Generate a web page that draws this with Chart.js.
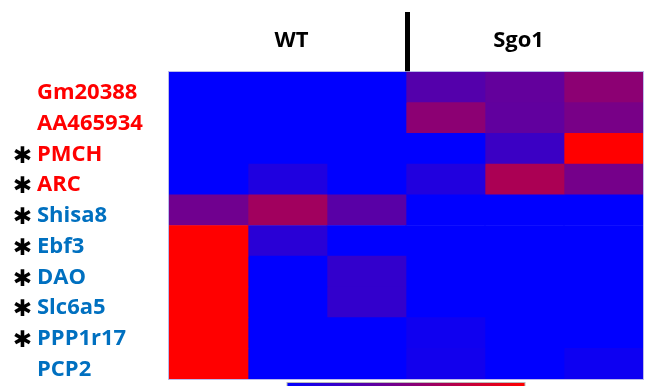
<!DOCTYPE html>
<html>
<head>
<meta charset="utf-8">
<script src="https://cdn.jsdelivr.net/npm/chart.js@4"></script>
<style>
  body { margin: 0; background: #fff; }
  #wrap { width: 646px; height: 386px; position: relative; }
</style>
</head>
<body>
<div id="wrap"><canvas id="heat"></canvas></div>
<script>
const genes = ['Gm20388', 'AA465934', 'PMCH', 'ARC', 'Shisa8', 'Ebf3', 'DAO', 'Slc6a5', 'PPP1r17', 'PCP2'];
const starred = [false, false, true, true, true, true, true, true, true, false];
const upInSgo1 = [true, true, true, true, false, false, false, false, false, false];
const groups = ['WT', 'Sgo1'];
const samples = ['WT1', 'WT2', 'WT3', 'Sgo1_1', 'Sgo1_2', 'Sgo1_3'];

// relative expression per sample (0 = blue, 1 = red)
const wt1 = [0, 0, 0, 0, 0.44, 1, 1, 1, 1, 1];
const wt2 = [0, 0, 0, 0.12, 0.63, 0.16, 0, 0, 0, 0];
const wt3 = [0, 0, 0, 0, 0.35, 0, 0.2, 0.2, 0, 0];
const sgo1a = [0.33, 0.55, 0, 0.13, 0, 0, 0, 0, 0.06, 0.07];
const sgo1b = [0.39, 0.38, 0.23, 0.67, 0, 0, 0, 0, 0, 0];
const sgo1c = [0.55, 0.47, 1, 0.46, 0, 0, 0, 0, 0, 0.05];
const columns = [wt1, wt2, wt3, sgo1a, sgo1b, sgo1c];

const heatColor = t => `rgb(${Math.round(255 * t)},0,${Math.round(255 * (1 - t))})`;
const labelFont = 'bold 22px "Open Sans"';

const datasets = columns.map((vals, c) => ({
  label: samples[c],
  data: vals.map(() => [c, c + 1]),
  backgroundColor: vals.map(heatColor),
  borderWidth: 0,
  barPercentage: 1,
  categoryPercentage: 1,
  grouped: false
}));

const decor = {
  id: 'decor',
  afterDraw(chart) {
    const ctx = chart.ctx;
    const x = chart.scales.x, y = chart.scales.y;
    const area = chart.chartArea;
    ctx.save();
    ctx.textBaseline = 'alphabetic';
    genes.forEach((g, i) => {
      const cy = y.getPixelForValue(i);
      ctx.textAlign = 'left';
      ctx.font = labelFont;
      ctx.fillStyle = upInSgo1[i] ? '#ff0000' : '#0070c0';
      ctx.fillText(g, 37, cy + 12);
      if (starred[i]) {
        ctx.font = '23px "DejaVu Sans"';
        ctx.fillStyle = '#000';
        const m = ctx.measureText('\u2731');
        const h = m.actualBoundingBoxAscent - m.actualBoundingBoxDescent;
        ctx.textAlign = 'center';
        ctx.fillText('\u2731', 22.5, cy + 5.5 + h / 2);
      }
    });
    // group headers
    ctx.font = labelFont;
    ctx.fillStyle = '#000';
    ctx.textAlign = 'center';
    ctx.fillText(groups[0], x.getPixelForValue(1.5) + 4, 47);
    ctx.fillText(groups[1], x.getPixelForValue(4.5) - 6, 47);
    // divider
    ctx.fillRect(x.getPixelForValue(3) - 1, 12, 5, area.top - 12);
    // border
    ctx.strokeStyle = 'rgba(170,170,230,0.8)';
    ctx.lineWidth = 1;
    ctx.strokeRect(area.left - 0.5, area.top - 0.5, area.right - area.left + 1, area.bottom - area.top + 1);
    // colour key
    const kx0 = x.getPixelForValue(1.5), kx1 = x.getPixelForValue(4.5);
    const grad = ctx.createLinearGradient(kx0, 0, kx1, 0);
    grad.addColorStop(0, heatColor(0));
    grad.addColorStop(1, heatColor(1));
    ctx.fillStyle = '#bbb';
    ctx.fillRect(kx0 - 1, area.bottom + 3, kx1 - kx0 + 2, 10);
    ctx.fillStyle = grad;
    ctx.fillRect(kx0, area.bottom + 4, kx1 - kx0, 10);
    ctx.restore();
  }
};

new Chart(document.getElementById('heat'), {
  type: 'bar',
  data: { labels: genes, datasets: datasets },
  options: {
    indexAxis: 'y',
    responsive: true,
    maintainAspectRatio: false,
    animation: false,
    layout: { padding: { left: 169, top: 72, right: 3, bottom: 7 } },
    plugins: { legend: { display: false }, tooltip: { enabled: false } },
    scales: {
      x: { type: 'linear', min: 0, max: 6, display: false },
      y: { type: 'category', display: false }
    }
  },
  plugins: [decor]
});
</script>
</body>
</html>
